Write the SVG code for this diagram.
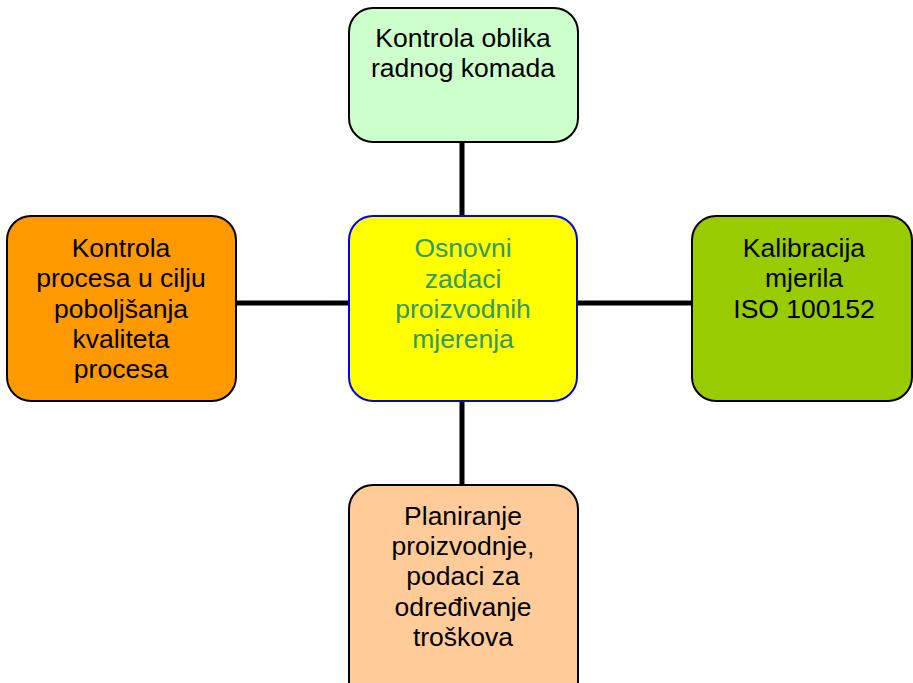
<svg xmlns="http://www.w3.org/2000/svg" width="913" height="683" viewBox="0 0 913 683">
  <style>
    .box { stroke: #000; stroke-width: 2; }
    .lbl { font-family: "Liberation Sans", Arial, sans-serif; font-size: 26.5px; text-anchor: middle; fill: #000; }
    .hub { fill: #339966; }
    .conn { stroke: #000; stroke-width: 5; fill: none; }
  </style>
  <rect width="913" height="683" fill="#fff"/>
  <g id="connectors">
    <line class="conn" x1="462" y1="142" x2="462" y2="216"/>
    <line class="conn" x1="462" y1="401" x2="462" y2="486"/>
    <line class="conn" x1="236" y1="303" x2="349" y2="303"/>
    <line class="conn" x1="577" y1="303" x2="692" y2="303"/>
  </g>
  <g id="top">
    <rect class="box" x="349" y="8" width="229" height="134" rx="24" fill="#CCFFCC"/>
    <text class="lbl" x="463" y="47">Kontrola oblika</text>
    <text class="lbl" x="463" y="77">radnog komada</text>
  </g>
  <g id="center">
    <rect x="349" y="216" width="228" height="185" rx="24" fill="#FFFF00" stroke="#0000FF" stroke-width="2"/>
    <text class="lbl hub" x="463" y="257">Osnovni</text>
    <text class="lbl hub" x="463" y="288">zadaci</text>
    <text class="lbl hub" x="463" y="318">proizvodnih</text>
    <text class="lbl hub" x="463" y="348">mjerenja</text>
  </g>
  <g id="left">
    <rect class="box" x="7" y="216" width="229" height="185" rx="24" fill="#FF9900"/>
    <text class="lbl" x="121" y="257">Kontrola</text>
    <text class="lbl" x="121" y="287">procesa u cilju</text>
    <text class="lbl" x="121" y="318">poboljšanja</text>
    <text class="lbl" x="121" y="348">kvaliteta</text>
    <text class="lbl" x="121" y="378">procesa</text>
  </g>
  <g id="right">
    <rect class="box" x="692" y="216" width="220" height="185" rx="24" fill="#99CC00"/>
    <text class="lbl" x="804" y="257">Kalibracija</text>
    <text class="lbl" x="804" y="287">mjerila</text>
    <text class="lbl" x="804" y="318">ISO 100152</text>
  </g>
  <g id="bottom">
    <rect class="box" x="349" y="485" width="229" height="220" rx="24" fill="#FFCC99"/>
    <text class="lbl" x="463" y="525">Planiranje</text>
    <text class="lbl" x="463" y="555">proizvodnje,</text>
    <text class="lbl" x="463" y="585">podaci za</text>
    <text class="lbl" x="463" y="616">određivanje</text>
    <text class="lbl" x="463" y="646">troškova</text>
  </g>
</svg>
